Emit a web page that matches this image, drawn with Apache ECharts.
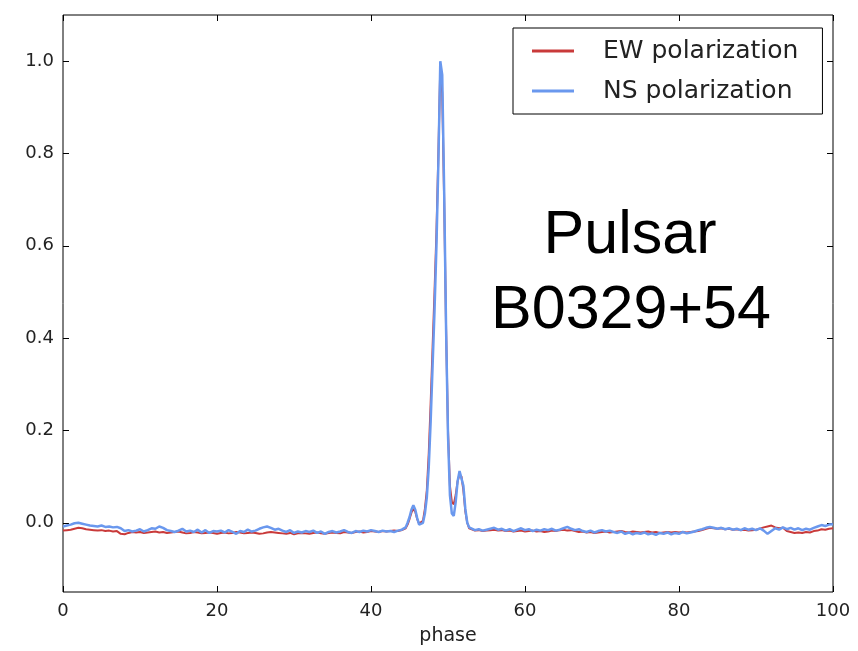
<!DOCTYPE html>
<html>
<head>
<meta charset="utf-8">
<script src="https://cdn.jsdelivr.net/npm/echarts@6/dist/echarts.min.js"></script>
<style>html,body{margin:0;padding:0;background:#fff;}#chart{width:858px;height:651px;}</style>
</head>
<body>
<div id="chart"></div>
<script>
// phase sampling points
const phase = [
  0,0.5,1,1.5,2,2.5,3,3.5,4,4.5,
  5,5.5,6,6.5,7,7.5,8,8.5,9,9.5,
  10,10.5,11,11.5,12,12.5,13,13.5,14,14.5,
  15,15.5,16,16.5,17,17.5,18,18.5,19,19.5,
  20,20.5,21,21.5,22,22.5,23,23.5,24,24.5,
  25,25.5,26,26.5,27,27.5,28,28.5,29,29.5,
  30,30.5,31,31.5,32,32.5,33,33.5,34,34.5,
  35,35.5,36,36.5,37,37.5,38,38.5,39,39.5,
  40,40.5,41,41.5,42,42.5,43,43.5,44,44.5,
  44.75,45,45.25,45.5,45.75,46,46.25,46.5,46.75,47,
  47.25,47.5,47.75,48,48.25,48.5,48.75,49,49.25,49.5,
  49.75,50,50.25,50.5,50.75,51,51.25,51.5,51.75,52,
  52.25,52.5,52.75,
  53,53.5,54,54.5,55,55.5,56,56.5,57,57.5,
  58,58.5,59,59.5,60,60.5,61,61.5,62,62.5,
  63,63.5,64,64.5,65,65.5,66,66.5,67,67.5,
  68,68.5,69,69.5,70,70.5,71,71.5,72,72.5,
  73,73.5,74,74.5,75,75.5,76,76.5,77,77.5,
  78,78.5,79,79.5,80,80.5,81,81.5,82,82.5,
  83,83.5,84,84.5,85,85.5,86,86.5,87,87.5,
  88,88.5,89,89.5,90,90.5,91,91.5,92,92.5,
  93,93.5,94,94.5,95,95.5,96,96.5,97,97.5,
  98,98.5,99,99.5,100
];
const ewPolarization = [
  -0.017,-0.016,-0.015,-0.013,-0.011,-0.012,-0.014,-0.015,-0.016,-0.017,
  -0.016,-0.018,-0.017,-0.019,-0.018,-0.024,-0.025,-0.022,-0.020,-0.021,
  -0.020,-0.022,-0.021,-0.020,-0.019,-0.021,-0.020,-0.022,-0.021,-0.020,
  -0.019,-0.021,-0.023,-0.022,-0.020,-0.021,-0.023,-0.022,-0.021,-0.022,
  -0.024,-0.022,-0.021,-0.023,-0.022,-0.020,-0.021,-0.023,-0.022,-0.021,
  -0.022,-0.024,-0.023,-0.021,-0.020,-0.021,-0.022,-0.023,-0.024,-0.022,
  -0.025,-0.023,-0.022,-0.023,-0.024,-0.022,-0.021,-0.023,-0.024,-0.022,
  -0.021,-0.022,-0.023,-0.020,-0.021,-0.022,-0.020,-0.019,-0.021,-0.020,
  -0.018,-0.019,-0.020,-0.018,-0.019,-0.018,-0.017,-0.018,-0.016,-0.012,
  -0.004,0.008,0.022,0.030,0.024,0.008,-0.002,-0.004,0.004,0.030,
  0.070,0.150,0.260,0.380,0.500,0.630,0.800,0.990,0.930,0.700,
  0.420,0.200,0.080,0.045,0.040,0.060,0.090,0.105,0.100,0.070,
  0.025,0.000,-0.012,
  -0.015,-0.017,-0.016,-0.018,-0.017,-0.016,-0.015,-0.017,-0.016,-0.018,
  -0.017,-0.019,-0.018,-0.017,-0.019,-0.018,-0.017,-0.019,-0.018,-0.020,
  -0.019,-0.017,-0.018,-0.016,-0.015,-0.017,-0.016,-0.018,-0.020,-0.019,
  -0.021,-0.020,-0.022,-0.021,-0.020,-0.019,-0.021,-0.020,-0.019,-0.018,
  -0.020,-0.021,-0.019,-0.020,-0.021,-0.020,-0.019,-0.021,-0.020,-0.022,
  -0.021,-0.020,-0.021,-0.020,-0.021,-0.020,-0.021,-0.020,-0.019,-0.018,
  -0.016,-0.013,-0.011,-0.012,-0.013,-0.012,-0.014,-0.013,-0.015,-0.014,
  -0.016,-0.015,-0.017,-0.016,-0.015,-0.013,-0.010,-0.008,-0.006,-0.010,
  -0.012,-0.011,-0.018,-0.020,-0.022,-0.021,-0.022,-0.020,-0.021,-0.018,
  -0.017,-0.014,-0.015,-0.013,-0.012
];
const nsPolarization = [
  -0.008,-0.006,-0.004,-0.001,0.000,-0.002,-0.004,-0.006,-0.007,-0.008,
  -0.006,-0.009,-0.008,-0.010,-0.009,-0.012,-0.018,-0.016,-0.019,-0.017,
  -0.014,-0.019,-0.016,-0.012,-0.013,-0.008,-0.011,-0.016,-0.018,-0.020,
  -0.017,-0.013,-0.019,-0.017,-0.020,-0.015,-0.021,-0.016,-0.022,-0.018,
  -0.019,-0.017,-0.021,-0.016,-0.020,-0.024,-0.018,-0.020,-0.015,-0.019,
  -0.017,-0.013,-0.010,-0.008,-0.011,-0.015,-0.013,-0.017,-0.020,-0.016,
  -0.022,-0.019,-0.021,-0.018,-0.020,-0.017,-0.022,-0.019,-0.024,-0.020,
  -0.018,-0.021,-0.019,-0.016,-0.020,-0.022,-0.018,-0.020,-0.017,-0.019,
  -0.016,-0.018,-0.020,-0.017,-0.019,-0.018,-0.020,-0.017,-0.015,-0.010,
  0.000,0.012,0.028,0.038,0.028,0.010,-0.004,-0.006,0.000,0.020,
  0.055,0.120,0.220,0.340,0.460,0.600,0.780,1.000,0.970,0.720,
  0.420,0.190,0.060,0.020,0.015,0.045,0.090,0.112,0.110,0.080,
  0.030,0.000,-0.010,
  -0.012,-0.016,-0.014,-0.017,-0.015,-0.013,-0.011,-0.015,-0.013,-0.017,
  -0.014,-0.018,-0.015,-0.012,-0.016,-0.014,-0.018,-0.015,-0.017,-0.014,
  -0.016,-0.013,-0.017,-0.015,-0.012,-0.009,-0.013,-0.016,-0.014,-0.018,
  -0.020,-0.017,-0.021,-0.018,-0.016,-0.019,-0.017,-0.020,-0.022,-0.019,
  -0.024,-0.021,-0.025,-0.022,-0.024,-0.021,-0.025,-0.023,-0.026,-0.022,
  -0.024,-0.021,-0.025,-0.022,-0.024,-0.020,-0.023,-0.021,-0.019,-0.016,
  -0.014,-0.011,-0.009,-0.011,-0.013,-0.011,-0.014,-0.012,-0.015,-0.013,
  -0.016,-0.012,-0.015,-0.013,-0.016,-0.012,-0.017,-0.024,-0.018,-0.012,
  -0.015,-0.010,-0.014,-0.011,-0.015,-0.012,-0.016,-0.013,-0.015,-0.011,
  -0.008,-0.005,-0.007,-0.004,-0.003
];
const xTicks = [0, 20, 40, 60, 80, 100];
const yTicks = [0, 0.2, 0.4, 0.6, 0.8, 1.0];
const seriesNames = ['EW polarization', 'NS polarization'];
const annotation = ['Pulsar', 'B0329+54'];

const chart = echarts.init(document.getElementById('chart'), null, {renderer: 'canvas'});
const pairs = ys => phase.map((p, i) => [p, ys[i]]);
const labelFont = {fontFamily: 'DejaVu Sans', fontSize: 18, color: '#222'};
const tickStyle = {color: '#000', width: 1};
const noLine = {show: false, onZero: false};

const option = {
  animation: false,
  backgroundColor: '#fff',
  grid: {left: 63, right: 25, top: 15, bottom: 57, show: true, borderColor: '#000', borderWidth: 1, backgroundColor: 'transparent'},
  legend: {
    orient: 'vertical', left: 513, top: 28,
    backgroundColor: '#fff', borderColor: '#000', borderWidth: 1,
    padding: [8, 24, 8, 19],
    itemWidth: 42, itemHeight: 3, itemGap: 10, icon: 'rect',
    data: seriesNames,
    textStyle: {fontFamily: 'DejaVu Sans', fontSize: 25, color: '#222', lineHeight: 30, padding: [0, 0, 0, 24]}
  },
  xAxis: [
    {type: 'value', min: 0, max: 100, interval: 20, position: 'bottom',
     name: 'phase', nameLocation: 'middle', nameGap: 35,
     nameTextStyle: {fontFamily: 'DejaVu Sans', fontSize: 19, color: '#222'},
     axisLine: noLine, splitLine: {show: false},
     axisTick: {inside: true, length: 6, lineStyle: tickStyle, customValues: xTicks},
     axisLabel: {...labelFont, margin: 10, customValues: xTicks}},
    {type: 'value', min: 0, max: 100, interval: 20, position: 'top',
     axisLine: noLine, splitLine: {show: false}, axisLabel: {show: false},
     axisTick: {inside: true, length: 6, lineStyle: tickStyle, customValues: xTicks}}
  ],
  yAxis: [
    {type: 'value', min: -0.15, max: 1.1, position: 'left',
     axisLine: noLine, splitLine: {show: false},
     axisTick: {inside: true, length: 6, lineStyle: tickStyle, customValues: yTicks},
     axisLabel: {...labelFont, margin: 9, customValues: yTicks, formatter: v => v.toFixed(1)}},
    {type: 'value', min: -0.15, max: 1.1, position: 'right',
     axisLine: noLine, splitLine: {show: false}, axisLabel: {show: false},
     axisTick: {inside: true, length: 6, lineStyle: tickStyle, customValues: yTicks}}
  ],
  series: [
    {name: seriesNames[0], type: 'line', data: pairs(ewPolarization), showSymbol: false,
     itemStyle: {color: '#c93a3a'}, lineStyle: {color: '#c93a3a', width: 2}, z: 2},
    {name: seriesNames[1], type: 'line', data: pairs(nsPolarization), showSymbol: false,
     itemStyle: {color: '#6a98ee'}, lineStyle: {color: '#6a98ee', width: 2.5}, z: 3}
  ],
  graphic: [
    {type: 'text', x: 630, y: 236, z: 10,
     style: {text: annotation[0], font: '61px "Liberation Sans", Arial, sans-serif', fill: '#000', align: 'center', verticalAlign: 'middle'}},
    {type: 'text', x: 631, y: 311, z: 10,
     style: {text: annotation[1], font: '61px "Liberation Sans", Arial, sans-serif', fill: '#000', align: 'center', verticalAlign: 'middle'}}
  ]
};
chart.setOption(option);
</script>
</body>
</html>
